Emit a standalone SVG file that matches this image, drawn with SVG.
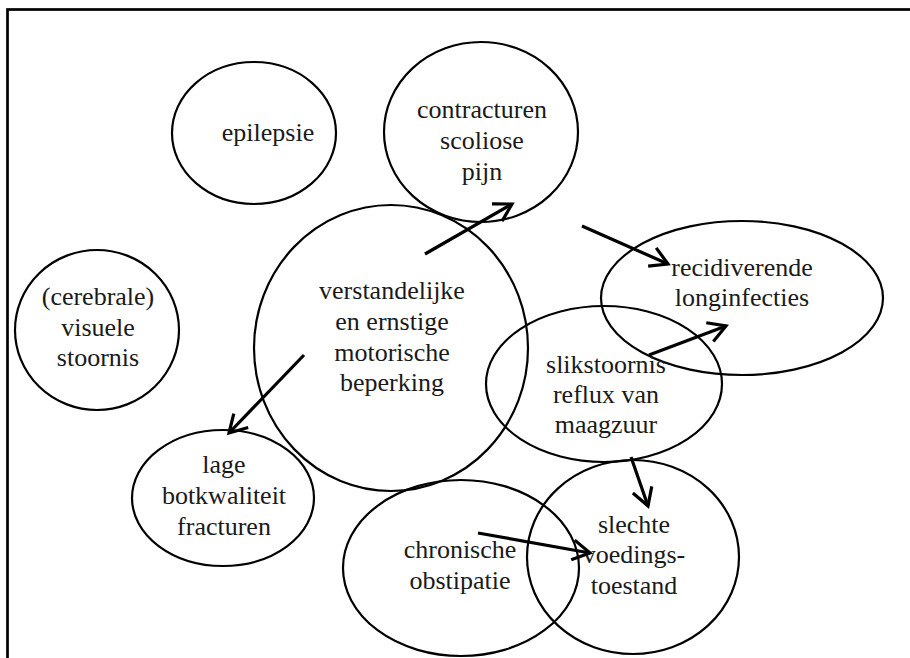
<svg xmlns="http://www.w3.org/2000/svg" width="910" height="658" viewBox="0 0 910 658">
<defs>
<style>
.n ellipse{fill:none;stroke:#000;stroke-width:2.2}
text{font-family:'Liberation Serif','Times New Roman','DejaVu Serif',serif;font-size:26px;fill:#1a1a1a;text-anchor:middle}
.c line{stroke:#000;stroke-width:3.2;marker-end:url(#ah)}
</style>
<marker id="ah" markerUnits="userSpaceOnUse" viewBox="-22 -14 26 28" refX="0" refY="0" markerWidth="26" markerHeight="28" orient="auto">
<path d="M-17.3,-10 L0,0 L-17.3,10" fill="none" stroke="#000" stroke-width="3.2" stroke-linejoin="miter"/>
</marker>
</defs>
<rect width="910" height="658" fill="#fff"/>
<rect x="7.5" y="9.5" width="1000" height="1000" fill="none" stroke="#000" stroke-width="2.7"/>
<g id="epilepsie" class="n"><ellipse cx="254" cy="133" rx="82" ry="71"/><text x="268" y="141" font-family="Liberation Serif, serif">epilepsie</text></g>
<g id="contracturen" class="n"><ellipse cx="481" cy="132" rx="97" ry="90"/><text x="482" y="118">contracturen</text><text x="482" y="149">scoliose</text><text x="482" y="180">pijn</text></g>
<g id="visueel" class="n"><ellipse cx="97" cy="330" rx="82" ry="80"/><text x="98" y="305">(cerebrale)</text><text x="98" y="336">visuele</text><text x="98" y="366">stoornis</text></g>
<g id="verstandelijk" class="n"><ellipse cx="391" cy="348" rx="137" ry="143"/><text x="392" y="299">verstandelijke</text><text x="392" y="330">en ernstige</text><text x="392" y="361">motorische</text><text x="392" y="391">beperking</text></g>
<g id="longinfecties" class="n"><ellipse cx="742" cy="298" rx="141" ry="77"/><text x="742" y="276">recidiverende</text><text x="742" y="306">longinfecties</text></g>
<g id="slikstoornis" class="n"><ellipse cx="604" cy="384" rx="118" ry="78"/><text x="606" y="373">slikstoornis</text><text x="606" y="403">reflux van</text><text x="606" y="433">maagzuur</text></g>
<g id="botkwaliteit" class="n"><ellipse cx="223" cy="498" rx="91" ry="68"/><text x="224" y="473">lage</text><text x="224" y="504">botkwaliteit</text><text x="224" y="535">fracturen</text></g>
<g id="obstipatie" class="n"><ellipse cx="461" cy="568" rx="118" ry="88"/><text x="460" y="558">chronische</text><text x="460" y="589">obstipatie</text></g>
<g id="voedingstoestand" class="n"><ellipse cx="633" cy="557" rx="106" ry="97"/><text x="634" y="533">slechte</text><text x="634" y="563">voedings-</text><text x="634" y="594">toestand</text></g>
<g id="connectors" class="c">
<line x1="425" y1="254" x2="512" y2="204"/>
<line x1="582" y1="226" x2="668" y2="264"/>
<line x1="304" y1="355" x2="229" y2="433"/>
<line x1="649" y1="355" x2="726" y2="326"/>
<line x1="631" y1="457" x2="648" y2="506"/>
<line x1="478" y1="533" x2="590" y2="553"/>
</g>
</svg>
